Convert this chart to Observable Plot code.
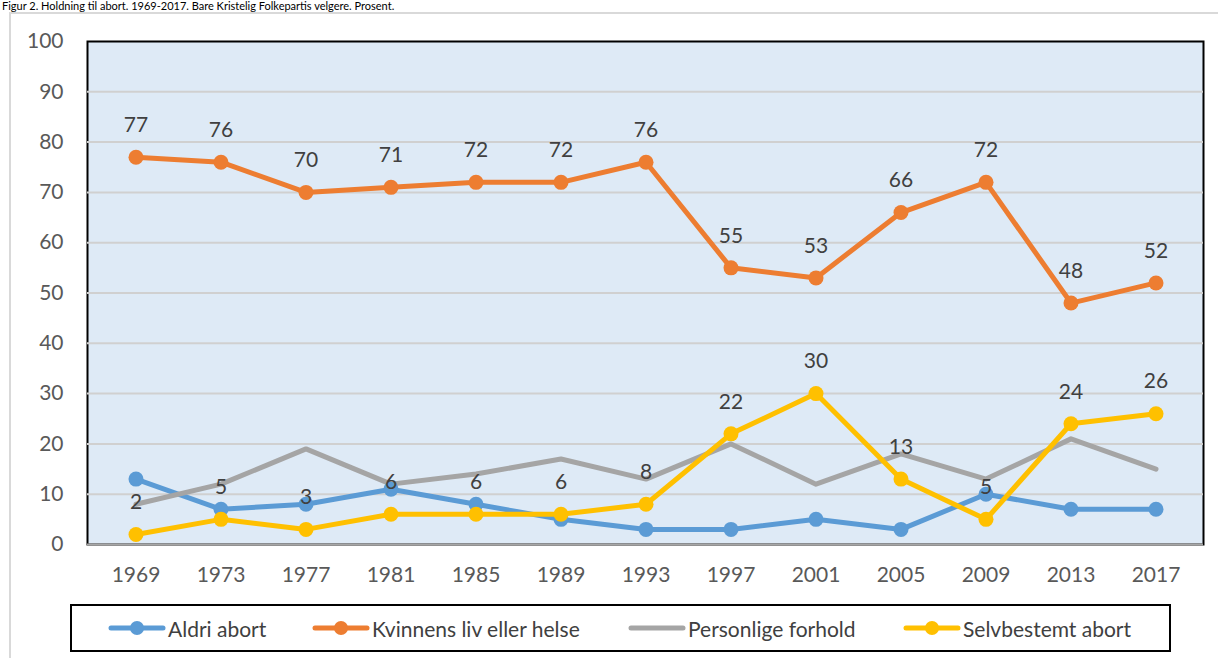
<!DOCTYPE html>
<html>
<head>
<meta charset="utf-8">
<script src="https://cdn.jsdelivr.net/npm/d3@7"></script>
<script src="https://cdn.jsdelivr.net/npm/@observablehq/plot@0.6"></script>
<style>
  html, body { margin: 0; padding: 0; background: #fff; overflow: hidden; }
  body { width: 1218px; height: 658px; position: relative; font-family: Lato, "Open Sans", sans-serif; }
  #title { position: absolute; left: 2px; top: 0px; font-size: 11px; line-height: 12px; color: #000; white-space: nowrap; }
  #frame { position: absolute; left: 9px; top: 12px; width: 1300px; height: 700px; border: 2px solid #D9D9D9; }
  #chart { position: absolute; left: 0; top: 0; }
  #legend { position: absolute; left: 70px; top: 604px; width: 1097px; height: 44px; border: 2px solid #000; font-size: 21px; color: #404040; background: #fff; }
  .item { position: absolute; top: 0; height: 44px; display: flex; align-items: center; white-space: nowrap; }
  .item svg { margin-right: 2px; flex-shrink: 0; }
</style>
</head>
<body>
<div id="frame"></div>
<div id="title">Figur 2. Holdning til abort. 1969-2017. Bare Kristelig Folkepartis velgere. Prosent.</div>
<div id="chart"></div>
<div id="legend"></div>
<script>
const years = [1969, 1973, 1977, 1981, 1985, 1989, 1993, 1997, 2001, 2005, 2009, 2013, 2017];
const aldriAbort = [13, 7, 8, 11, 8, 5, 3, 3, 5, 3, 10, 7, 7];
const kvinnensLiv = [77, 76, 70, 71, 72, 72, 76, 55, 53, 66, 72, 48, 52];
const personlige = [8, 12, 19, 12, 14, 17, 13, 20, 12, 18, 13, 21, 15];
const selvbestemt = [2, 5, 3, 6, 6, 6, 8, 22, 30, 13, 5, 24, 26];
const seriesNames = ["Aldri abort", "Kvinnens liv eller helse", "Personlige forhold", "Selvbestemt abort"];
const seriesColors = ["#5B9BD5", "#ED7D31", "#A5A5A5", "#FFC000"];
const seriesMarkers = [true, true, false, true];
const legendOffsets = [36, 240, 556, 831];
const yTicks = [0, 10, 20, 30, 40, 50, 60, 70, 80, 90, 100];

const allValues = [aldriAbort, kvinnensLiv, personlige, selvbestemt];
const data = [];
allValues.forEach((vals, si) => {
  vals.forEach((v, i) => data.push({year: String(years[i]), value: v, series: seriesNames[si]}));
});
const withMarkers = data.filter(d => seriesMarkers[seriesNames.indexOf(d.series)]);
const labeled = data.filter(d => d.series === "Kvinnens liv eller helse" || d.series === "Selvbestemt abort");

const chart = Plot.plot({
  width: 1218,
  height: 600,
  marginLeft: 87,
  marginRight: 15,
  marginTop: 41,
  marginBottom: 56,
  style: {fontFamily: "Lato, 'Open Sans', sans-serif", fontSize: "21px", background: "transparent"},
  x: {type: "band", domain: years.map(String), padding: 0, label: null, tickSize: 0, tickPadding: 23},
  y: {domain: [0, 100], ticks: yTicks, label: null, tickSize: 0, tickPadding: 24},
  color: {domain: seriesNames, range: seriesColors},
  marks: [
    Plot.frame({fill: "#DEEAF6", stroke: "#000", strokeWidth: 2}),
    Plot.ruleY(yTicks.filter(t => t > 0 && t < 100), {stroke: "#D0D0D0", strokeWidth: 2}),
    Plot.ruleY([0], {stroke: "#A6A6A6", strokeWidth: 2}),
    Plot.axisX({tickSize: 0, tickPadding: 23, fill: "#595959", fontSize: 21}),
    Plot.axisY({ticks: yTicks, tickSize: 0, tickPadding: 24, fill: "#595959", fontSize: 21}),
    Plot.line(data, {x: "year", y: "value", z: "series", stroke: "series", strokeWidth: 5, strokeLinejoin: "round", strokeLinecap: "round"}),
    Plot.dot(withMarkers, {x: "year", y: "value", fill: "series", r: 7.5, stroke: null}),
    Plot.text(labeled, {x: "year", y: "value", text: d => String(d.value), dy: -32, fill: "#404040", fontSize: 21})
  ]
});
document.getElementById("chart").appendChild(chart);

const legend = document.getElementById("legend");
seriesNames.forEach((name, i) => {
  const item = document.createElement("div");
  item.className = "item";
  item.style.left = legendOffsets[i] + "px";
  const c = seriesColors[i];
  item.innerHTML = `<svg width="58" height="20"><line x1="3" y1="10" x2="55" y2="10" stroke="${c}" stroke-width="5" stroke-linecap="round"/>` +
    (seriesMarkers[i] ? `<circle cx="29" cy="10" r="7" fill="${c}"/>` : "") + `</svg><span>${name}</span>`;
  legend.appendChild(item);
});
</script>
</body>
</html>
